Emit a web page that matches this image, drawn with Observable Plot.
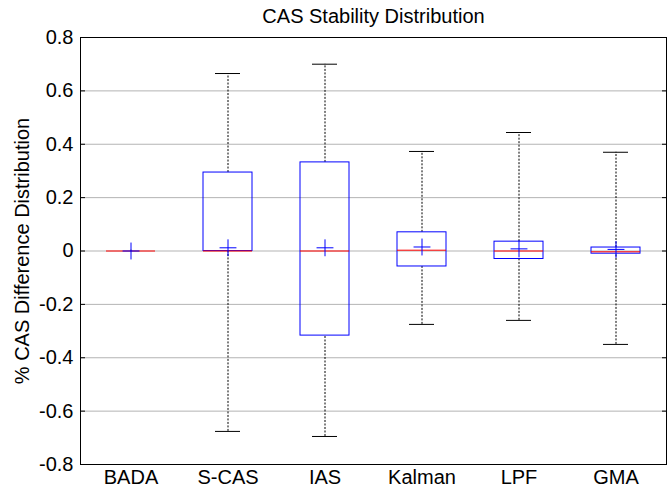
<!DOCTYPE html>
<html>
<head>
<meta charset="utf-8">
<script src="https://cdn.jsdelivr.net/npm/d3@7"></script>
<script src="https://cdn.jsdelivr.net/npm/@observablehq/plot@0.6"></script>
<style>
  html, body { margin: 0; padding: 0; background: #fff; }
  #chart svg { display: block; }
</style>
</head>
<body>
<div id="chart"></div>
<script>
const categories = ["BADA", "S-CAS", "IAS", "Kalman", "LPF", "GMA"];
const lowerWhisker = [-0.003, -0.676, -0.695, -0.275, -0.260, -0.350];
const q1Values     = [0.000, 0.000, -0.317, -0.058, -0.030, -0.010];
const medians      = [0.000, 0.000, 0.000, 0.003, 0.000, -0.003];
const q3Values     = [0.000, 0.294, 0.332, 0.070, 0.035, 0.013];
const upperWhisker = [0.003, 0.665, 0.700, 0.373, 0.444, 0.370];
const means        = [0.000, 0.012, 0.012, 0.015, 0.008, 0.006];
const yTicks = [-0.8, -0.6, -0.4, -0.2, 0, 0.2, 0.4, 0.6, 0.8];

const data = categories.map((name, i) => ({
  name,
  lo: lowerWhisker[i], q1: q1Values[i], med: medians[i],
  q3: q3Values[i], hi: upperWhisker[i], mean: means[i]
}));

const chart = Plot.plot({
  width: 669,
  height: 493,
  marginLeft: 80,
  marginRight: 3,
  marginTop: 37,
  marginBottom: 29,
  style: { fontFamily: "Liberation Sans, Arial, sans-serif", fontSize: "20px", background: "#fff", color: "#000" },
  x: { type: "band", domain: categories, paddingInner: 0.5, paddingOuter: 0.25, label: null },
  y: { domain: [-0.8, 0.8], ticks: yTicks, label: "% CAS Difference Distribution" },
  marks: [
    Plot.gridY(yTicks, { stroke: "#777", strokeOpacity: 0.55, strokeWidth: 1 }),
    Plot.ruleX(data, { x: "name", y1: "q3", y2: "hi", stroke: "#000", strokeDasharray: "2,1.5", strokeWidth: 1 }),
    Plot.ruleX(data, { x: "name", y1: "lo", y2: "q1", stroke: "#000", strokeDasharray: "2,1.5", strokeWidth: 1 }),
    Plot.tickY(data.filter(d => d.name !== "BADA"), { x: "name", y: "hi", stroke: "#000", insetLeft: 12, insetRight: 12 }),
    Plot.tickY(data.filter(d => d.name !== "BADA"), { x: "name", y: "lo", stroke: "#000", insetLeft: 12, insetRight: 12 }),
    Plot.rectY(data, { x: "name", y1: "q1", y2: "q3", fill: "none", stroke: "#0000ff", strokeWidth: 1 }),
    Plot.tickY(data, { x: "name", y: "med", stroke: "#ff0000", strokeWidth: 1 }),
    Plot.dot(data, { x: "name", y: "mean", symbol: "plus", r: 5.5, stroke: "#0000ff", strokeWidth: 1 }),
    Plot.frame({ stroke: "#000", strokeWidth: 1 }),
    Plot.axisY(yTicks, { anchor: "left", tickSize: -5, text: null, label: null }),
    Plot.axisY(yTicks, { anchor: "right", tickSize: -5, text: null, label: null }),
    Plot.axisY(yTicks, {
      anchor: "left",
      tickSize: 0, tickPadding: 7,
      tickFormat: d => d === 0 ? "0" : d.toFixed(1),
      label: "% CAS Difference Distribution", labelAnchor: "center", labelArrow: "none", labelOffset: 66,
      fontSize: 20
    }),
    Plot.axisX({ tickSize: 0, tickPadding: 5, fontSize: 20, label: null }),
    Plot.text(["CAS Stability Distribution"], { frameAnchor: "top", dy: -21, lineAnchor: "middle", fontSize: 20 })
  ]
});
document.getElementById("chart").appendChild(chart);
</script>
</body>
</html>
